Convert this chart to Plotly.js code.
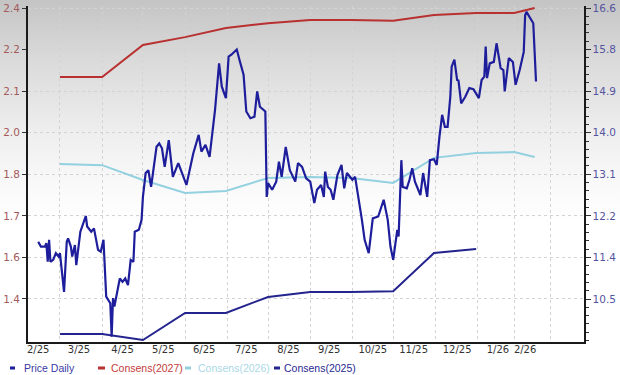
<!DOCTYPE html>
<html><head><meta charset="utf-8">
<script src="https://cdn.plot.ly/plotly-3.0.1.min.js"></script>
<style>
html,body{margin:0;padding:0;}
body{width:620px;height:375px;overflow:hidden;background:linear-gradient(to bottom,#c4c4c4 0%,#d9d9d9 15%,#eeeeee 35%,#fbfbfb 52%,#ffffff 60%,#ffffff 100%);}
#chart{width:620px;height:375px;}
</style></head><body><div id="chart"></div>
<script>
// ---- Data ----
const priceDates = [
"2025-02-13","2025-02-15","2025-02-18","2025-02-19","2025-02-20","2025-02-21","2025-02-22","2025-02-24","2025-02-26","2025-02-28",
"2025-03-01","2025-03-04","2025-03-06","2025-03-07","2025-03-09","2025-03-10","2025-03-12","2025-03-13","2025-03-16","2025-03-19",
"2025-03-20","2025-03-21","2025-03-24","2025-03-26","2025-03-27","2025-03-29","2025-03-31","2025-04-02","2025-04-04","2025-04-07",
"2025-04-08","2025-04-09","2025-04-10","2025-04-12","2025-04-14","2025-04-16","2025-04-18","2025-04-20","2025-04-22","2025-04-24",
"2025-04-25","2025-04-28","2025-04-30","2025-05-01","2025-05-03","2025-05-05","2025-05-07","2025-05-11","2025-05-13","2025-05-15",
"2025-05-17","2025-05-20","2025-05-23","2025-05-27","2025-05-30","2025-06-02","2025-06-07","2025-06-11","2025-06-13","2025-06-16",
"2025-06-19","2025-06-21","2025-06-23","2025-06-26","2025-06-28","2025-07-01","2025-07-03","2025-07-05","2025-07-09","2025-07-11",
"2025-07-14","2025-07-16","2025-07-19","2025-07-22","2025-07-24","2025-07-26","2025-07-30","2025-07-31","2025-08-01","2025-08-04",
"2025-08-07","2025-08-09","2025-08-11","2025-08-14","2025-08-17","2025-08-21","2025-08-23","2025-08-26","2025-08-29","2025-09-01",
"2025-09-04","2025-09-06","2025-09-09","2025-09-11","2025-09-12","2025-09-14","2025-09-16","2025-09-18","2025-09-21","2025-09-24",
"2025-09-26","2025-09-28","2025-10-02","2025-10-04","2025-10-08","2025-10-09","2025-10-11","2025-10-14","2025-10-17","2025-10-21",
"2025-10-25","2025-10-28","2025-10-30","2025-11-01","2025-11-04","2025-11-05","2025-11-07","2025-11-08","2025-11-11","2025-11-13",
"2025-11-15","2025-11-17","2025-11-21","2025-11-23","2025-11-26","2025-11-28","2025-12-01","2025-12-03","2025-12-05","2025-12-07",
"2025-12-09","2025-12-11","2025-12-13","2025-12-14","2025-12-16","2025-12-18","2025-12-19","2025-12-21","2025-12-24","2025-12-27",
"2025-12-30","2026-01-03","2026-01-05","2026-01-07","2026-01-08","2026-01-09","2026-01-11","2026-01-14","2026-01-16","2026-01-19",
"2026-01-21","2026-01-22","2026-01-25","2026-01-28","2026-01-30","2026-02-02","2026-02-05","2026-02-06","2026-02-07","2026-02-08",
"2026-02-10","2026-02-12","2026-02-14"
];
const priceDaily = [
11.70,11.60,11.60,11.67,11.28,11.74,11.28,11.32,11.46,11.39,
11.46,10.65,11.70,11.77,11.60,11.39,11.63,11.21,11.91,12.19,
12.24,12.02,11.91,11.98,11.84,11.53,11.49,11.74,10.55,10.41,
9.71,10.52,10.34,10.62,10.93,10.86,10.93,10.79,11.32,11.28,
11.91,11.95,12.16,12.64,13.14,13.20,12.85,13.69,13.76,13.66,
13.27,13.83,13.06,13.35,13.10,12.89,13.55,13.94,13.59,13.73,
13.48,13.97,14.46,15.44,14.95,14.71,15.58,15.62,15.73,15.51,
15.20,14.43,14.29,14.32,14.85,14.53,14.43,12.64,12.93,12.79,
12.96,13.38,13.06,13.69,13.20,12.96,13.35,13.27,13.03,12.96,
12.51,12.79,12.89,12.64,13.17,12.85,12.79,12.58,13.10,13.31,
12.82,13.14,13.00,13.06,12.37,12.16,11.74,11.46,12.19,12.23,
12.58,12.16,11.60,11.32,11.95,11.81,13.41,12.85,12.82,13.00,
13.24,12.96,12.68,13.14,12.64,13.41,13.43,13.31,13.90,14.36,
14.11,14.11,14.74,15.37,15.52,15.09,15.08,14.60,14.74,14.92,
14.90,14.71,15.09,15.16,15.79,15.13,15.44,15.47,15.86,15.34,
15.30,14.85,15.55,15.47,14.99,15.30,15.68,16.45,16.52,16.47,
16.38,16.28,15.06
];
const consDates = ["2025-03-01","2025-04-01","2025-05-01","2025-06-01","2025-07-01","2025-08-01","2025-09-01","2025-10-01","2025-11-01","2025-12-01","2026-01-01","2026-01-29","2026-02-13"];
const consens2027 = [2.163,2.163,2.273,2.300,2.331,2.348,2.359,2.359,2.356,2.376,2.383,2.383,2.400];
const consens2026 = [1.864,1.860,1.809,1.764,1.771,1.816,1.819,1.816,1.799,1.885,1.902,1.905,1.888];
const consDates2025 = ["2025-03-01","2025-04-01","2025-05-01","2025-06-01","2025-07-01","2025-08-01","2025-09-01","2025-10-01","2025-11-01","2025-12-01","2026-01-01"];
const consens2025 = [1.280,1.280,1.259,1.352,1.352,1.407,1.424,1.424,1.427,1.558,1.572];

const xTickLabels = ["2/25","3/25","4/25","5/25","6/25","7/25","8/25","9/25","10/25","11/25","12/25","1/26","2/26"];
const xLabelDates = ["2025-02-13","2025-03-15","2025-04-16","2025-05-16","2025-06-15","2025-07-16","2025-08-16","2025-09-15","2025-10-17","2025-11-16","2025-12-18","2026-01-17","2026-02-06"];
const xGridDates = ["2025-03-01","2025-04-01","2025-05-01","2025-06-01","2025-07-02","2025-08-01","2025-09-01","2025-10-02","2025-11-01","2025-12-02","2026-01-02","2026-01-29","2026-02-25"];
const leftTickLabels = ["1.4","1.6","1.7","1.8","2.0","2.1","2.2","2.4"];
const rightTickLabels = ["10.5","11.4","12.2","13.1","14.0","14.9","15.8","16.6"];
const seriesNames = ["Price Daily","Consens(2027)","Consens(2026)","Consens(2025)"];

// ---- Style ----
const cPrice = "#1e1e9c", c27 = "#b83030", c26 = "#93d0e0", c25 = "#24248e";
const leftVals = leftTickLabels.map((_, i) => 1.4 + i / 7);
const rightVals = rightTickLabels.map((_, i) => 10.5 + i * 6.1 / 7);
const xRange = ["2025-02-05 12:00", "2026-03-21 07:00"];
const gridC = "#d3d3d3";

const traces = [
  {x: consDates, y: consens2027, yaxis: "y", xaxis: "x", mode: "lines", name: seriesNames[1], line: {color: c27, width: 2}, showlegend: false},
  {x: consDates, y: consens2026, yaxis: "y", xaxis: "x", mode: "lines", name: seriesNames[2], line: {color: c26, width: 2}, showlegend: false},
  {x: consDates2025, y: consens2025, yaxis: "y", xaxis: "x", mode: "lines", name: seriesNames[3], line: {color: c25, width: 2}, showlegend: false},
  {x: priceDates, y: priceDaily, yaxis: "y2", xaxis: "x", mode: "lines", name: seriesNames[0], line: {color: cPrice, width: 2.2}, showlegend: false},
  {x: [], y: [], xaxis: "x2", yaxis: "y", mode: "lines", showlegend: false, hoverinfo: "skip"}
];

const pxX = p => (p - 28) / 556;
const pxY = p => (342 - p) / 336;
const legendY = 368;
const legendItems = [
  {dash: [10, 15], tx: 22, color: "#3a3aa6"},
  {dash: [98, 105], tx: 109, color: "#c43c3c"},
  {dash: [185, 191], tx: 196, color: "#aad8e6"},
  {dash: [274, 280], tx: 282, color: "#28288f"}
];
const dashColors = [cPrice, c27, c26, c25];

const annotations = legendItems.map((it, i) => ({
  xref: "paper", yref: "paper", x: pxX(it.tx), y: pxY(legendY), xanchor: "left", yanchor: "middle",
  text: seriesNames[i], showarrow: false,
  font: {family: "Liberation Sans, Arial, sans-serif", size: 10.5, color: it.color}
}));
const shapes = legendItems.map((it, i) => ({
  type: "line", xref: "paper", yref: "paper",
  x0: pxX(it.dash[0]), x1: pxX(it.dash[1]), y0: pxY(legendY), y1: pxY(legendY),
  line: {color: dashColors[i], width: 3}
}));

const layout = {
  width: 620, height: 375,
  margin: {l: 28, r: 36, t: 6, b: 33, pad: 0},
  paper_bgcolor: "rgba(0,0,0,0)", plot_bgcolor: "rgba(0,0,0,0)",
  showlegend: false,
  xaxis: {
    type: "date", range: xRange, tickmode: "array", tickvals: xGridDates, showticklabels: false,
    ticks: "", showgrid: true, gridcolor: gridC, griddash: "dot", gridwidth: 1,
    showline: true, linecolor: "#1a1a1a", linewidth: 2, zeroline: false, fixedrange: true
  },
  xaxis2: {
    type: "date", range: xRange, overlaying: "x", anchor: "y", side: "bottom",
    tickmode: "array", tickvals: xLabelDates, ticktext: xTickLabels,
    showgrid: false, showline: false, ticks: "", zeroline: false,
    tickfont: {family: "DejaVu Sans, Verdana, sans-serif", size: 10, color: "#333333"}
  },
  yaxis: {
    range: [1.2522, 2.4069], tickmode: "array", tickvals: leftVals, ticktext: leftTickLabels,
    ticks: "outside", ticklen: 4, tickwidth: 1, tickcolor: "#333",
    showline: true, linecolor: "#1a1a1a", linewidth: 2,
    showgrid: true, gridcolor: gridC, griddash: "dot", gridwidth: 1, zeroline: false,
    tickfont: {family: "DejaVu Sans, Verdana, sans-serif", size: 10.5, color: "#a45a5a"}
  },
  yaxis2: {
    range: [9.5987, 16.6419], overlaying: "y", side: "right", anchor: "x",
    tickmode: "array", tickvals: rightVals, ticktext: rightTickLabels,
    ticks: "outside", ticklen: 5, tickwidth: 1, tickcolor: "#333",
    showline: true, linecolor: "#1a1a1a", linewidth: 1.5,
    showgrid: false, zeroline: false,
    minor: {tickmode: "linear", tick0: 10.5, dtick: 6.1 / 35, ticks: "outside", ticklen: 3, tickcolor: "#333", showgrid: false},
    tickfont: {family: "DejaVu Sans, Verdana, sans-serif", size: 10.5, color: "#55559f"}
  },
  annotations: annotations,
  shapes: shapes
};

Plotly.newPlot("chart", traces, layout, {staticPlot: true, displayModeBar: false});
</script></body></html>
